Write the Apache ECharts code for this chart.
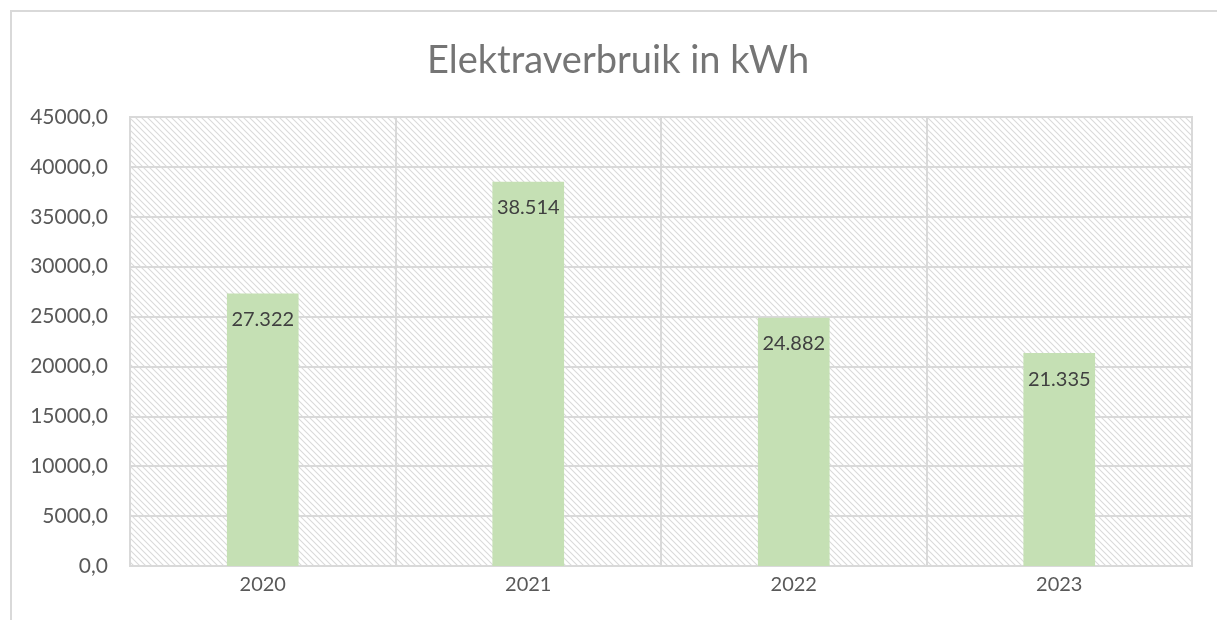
<!DOCTYPE html>
<html>
<head>
<meta charset="utf-8">
<script src="https://cdn.jsdelivr.net/npm/echarts@6/dist/echarts.min.js"></script>
<style>
  html, body { margin: 0; padding: 0; background: #fff; }
  #chart { width: 1217px; height: 620px; }
</style>
</head>
<body>
<div id="chart"></div>
<script>
var years = ['2020', '2021', '2022', '2023']
var usage = [27322, 38514, 24882, 21335]
var yMax = 45000
var yStep = 5000

// diagonal hatch for the plot background
function hatch () {
  var c = document.createElement('canvas')
  c.width = 6
  c.height = 6
  var g = c.getContext('2d')
  g.fillStyle = '#fff'
  g.fillRect(0, 0, 6, 6)
  g.strokeStyle = '#dadada'
  g.lineWidth = 1.1
  g.beginPath()
  g.moveTo(-1, -1); g.lineTo(7, 7)
  g.moveTo(-4, 2); g.lineTo(4, 10)
  g.moveTo(2, -4); g.lineTo(10, 4)
  g.stroke()
  return c
}

var fmtNl = function (v) {
  return String(v).replace(/\B(?=(\d{3})+(?!\d))/g, '.')
}

var chart = echarts.init(document.getElementById('chart'))
chart.setOption({
  animation: false,
  textStyle: { fontFamily: 'Lato' },
  graphic: [{
    type: 'rect',
    shape: { x: 11, y: 11, width: 1250, height: 700 },
    style: { fill: 'none', stroke: '#d9d9d9', lineWidth: 2 },
    silent: true
  }],
  title: {
    text: 'Elektraverbruik in kWh',
    left: 422,
    top: 37,
    textStyle: { fontFamily: 'Lato', fontSize: 38, fontWeight: 'normal', color: '#757575' }
  },
  grid: {
    left: 130, right: 25, top: 117, bottom: 54,
    show: true,
    backgroundColor: { image: hatch(), repeat: 'repeat' },
    borderColor: '#d9d9d9',
    borderWidth: 2
  },
  xAxis: {
    type: 'category',
    data: years,
    axisLine: { lineStyle: { color: '#d9d9d9', width: 2 } },
    axisTick: { show: false },
    splitLine: { show: true, lineStyle: { color: '#d9d9d9', width: 2 } },
    axisLabel: { color: '#595959', fontSize: 20, margin: 9 }
  },
  yAxis: {
    type: 'value',
    min: 0,
    max: yMax,
    interval: yStep,
    axisLine: { show: false },
    axisTick: { show: false },
    splitLine: { lineStyle: { color: '#d9d9d9', width: 2 } },
    axisLabel: {
      color: '#595959', fontSize: 21, margin: 22,
      formatter: function (v) { return v.toFixed(1).replace('.', ',') }
    }
  },
  series: [{
    type: 'bar',
    data: usage,
    barWidth: '27%',
    itemStyle: { color: '#c5e0b4' },
    label: {
      show: true,
      position: 'insideTop',
      distance: 16,
      color: '#404040',
      fontSize: 20,
      formatter: function (p) { return fmtNl(p.value) }
    }
  }]
})
</script>
</body>
</html>
